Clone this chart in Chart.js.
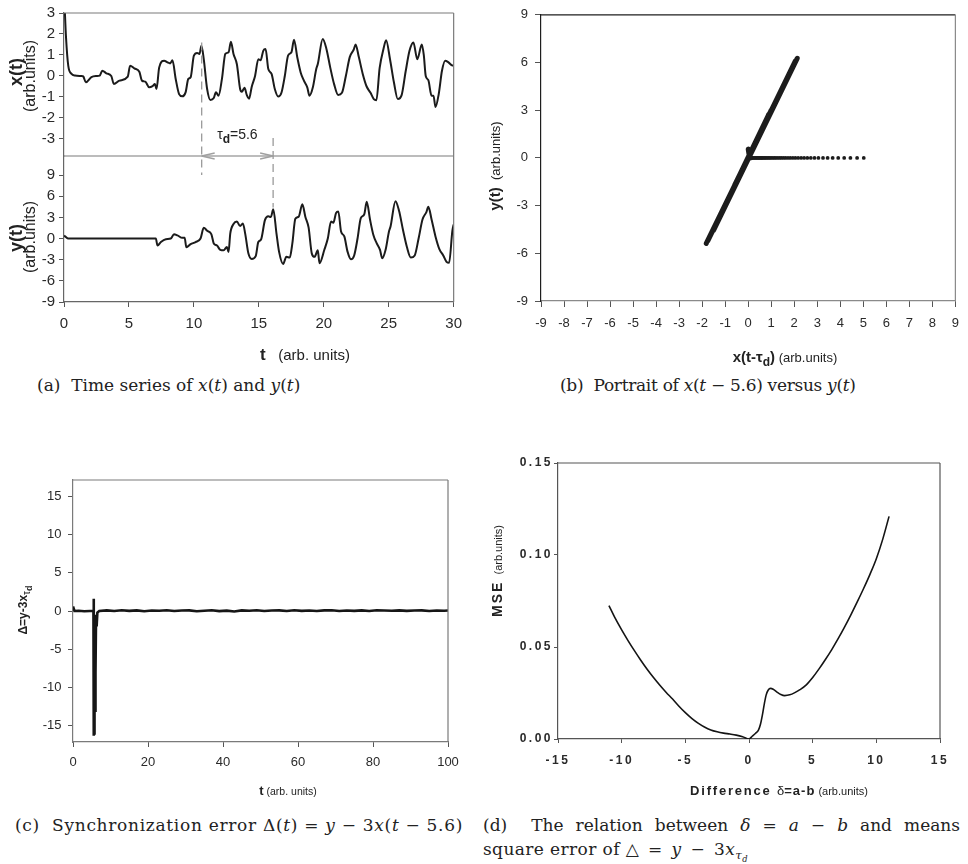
<!DOCTYPE html>
<html>
<head>
<meta charset="utf-8">
<script src="https://cdn.jsdelivr.net/npm/chart.js@4.4.1/dist/chart.umd.min.js"></script>
<style>
  body { margin: 0; background: #fff; }
  #page { position: relative; width: 968px; height: 864px; overflow: hidden; }
  canvas { position: absolute; }
  .cap { position: absolute; font-family: "DejaVu Serif", serif; font-size: 17px; color: #222; white-space: nowrap; }
  .just { text-align: justify; text-align-last: justify; white-space: normal; }
  sub { font-size: 70%; }
</style>
</head>
<body>
<div id="page">
  <canvas id="chartA" width="470" height="370" style="left:0;top:0"></canvas>
  <canvas id="chartB" width="498" height="370" style="left:470px;top:0"></canvas>
  <canvas id="chartC" width="470" height="370" style="left:0;top:440px"></canvas>
  <canvas id="chartD" width="488" height="370" style="left:480px;top:440px"></canvas>

  <div class="cap" style="left:37px;top:375px">(a)&nbsp; Time series of <i>x</i>(<i>t</i>) and <i>y</i>(<i>t</i>)</div>
  <div class="cap" style="left:560px;top:375px;letter-spacing:-0.3px">(b)&nbsp; Portrait of <i>x</i>(<i>t</i> − 5.6) versus <i>y</i>(<i>t</i>)</div>
  <div class="cap" style="left:15px;top:815px;letter-spacing:0.7px">(c)&nbsp; Synchronization error Δ(<i>t</i>) = <i>y</i> − 3<i>x</i>(<i>t</i> − 5.6)</div>
  <div class="cap just" style="left:483px;top:815px;width:477px">(d)&nbsp; The relation between <i>δ</i> = <i>a</i> − <i>b</i> and means</div>
  <div class="cap" style="left:483px;top:839px;letter-spacing:0.4px">square error of △&ensp;=&ensp;<i>y</i>&ensp;−&ensp;3<i>x</i><sub><i>τ<sub>d</sub></i></sub></div>
</div>
<script>
// (a) drive x(t) and response y(t)
const tX = [0.05, 0.15, 0.33, 0.58, 0.84, 1.35, 1.48, 1.68, 2.11, 2.49, 2.75, 2.95, 3.26, 3.64, 3.84, 4.27, 4.91, 5.09, 5.42, 5.8,
  6.0, 6.26, 6.56, 6.82, 7.0, 7.12, 7.33, 7.71, 7.97, 8.17, 8.35, 8.6, 8.86, 9.11, 9.36, 9.57, 9.75, 10.0, 10.25, 10.43,
  10.58, 10.76, 11.02, 11.27, 11.53, 11.7, 11.9, 12.16, 12.42, 12.67, 12.85, 13.05, 13.31, 13.56, 13.69, 13.9, 14.07, 14.25, 14.45, 14.71,
  14.96, 15.14, 15.34, 15.52, 15.73, 15.98, 16.23, 16.49, 16.74, 17.0, 17.25, 17.51, 17.71, 17.96, 18.22, 18.47, 18.73, 18.9, 19.16, 19.42,
  19.54, 19.92, 20.2, 20.5, 20.8, 21.1, 21.4, 21.7, 22.0, 22.3, 22.45, 22.7, 23.0, 23.3, 23.6, 23.85, 24.05, 24.3, 24.6, 24.8,
  25.1, 25.4, 25.7, 26.0, 26.3, 26.6, 26.9, 27.2, 27.55, 27.7, 27.85, 28.05, 28.3, 28.45, 28.6, 28.85, 29.1, 29.35, 29.6, 29.9, 30.0];
const xT = [3.3, 1.9, 0.48, 0.1, 0.02, 0.0, -0.02, -0.3, -0.05, 0.0, 0.02, 0.25, 0.13, 0.0, -0.38, -0.22, -0.03, 0.49, 0.36, 0.2,
  -0.22, -0.27, -0.54, -0.48, -0.38, -0.62, 0.41, 0.73, 0.65, 0.6, 0.75, -0.14, -0.86, -0.97, -0.78, -0.14, -0.06, 0.97, 1.1, 1.05,
  1.44, 0.8, -0.62, -1.14, -1.05, -0.78, -0.94, -0.14, 1.05, 1.13, 1.63, 1.05, 0.56, -0.62, -0.75, -0.56, -0.9, -1.08, -0.52, 0.0,
  0.8, 0.75, 1.2, 1.28, 0.33, 0.1, -0.62, -0.98, -0.8, 0.0, 0.97, 1.13, 1.73, 0.89, 0.17, -0.22, -0.54, -0.94, -0.54, 0.33,
  0.57, 1.76, 1.3, 0.4, -0.4, -0.9, -0.8, 0.0, 0.9, 1.25, 1.5, 0.9, 0.1, -0.5, -0.8, -1.1, -1.15, 0.37, 1.3, 1.7,
  0.8, -0.3, -1.1, -0.9, 0.2, 1.2, 1.6, 0.8, 1.5, 1.0, 0.0, -0.2, -0.94, -0.94, -1.48, -0.86, 0.25, 0.73, 0.65, 0.5, 0.5];
const tY = [0.0, 0.08, 0.33, 3.0, 7.07, 7.2, 7.46, 7.84, 8.22, 8.47, 8.73, 9.11, 9.29, 9.42, 9.75, 10.13, 10.51, 10.76, 11.02, 11.35,
  11.53, 11.78, 12.03, 12.29, 12.54, 12.67, 12.8, 13.05, 13.31, 13.56, 13.77, 13.95, 14.2, 14.45, 14.76, 14.96, 15.17, 15.47, 15.73, 15.93,
  16.11, 16.36, 16.56, 16.87, 17.12, 17.38, 17.58, 17.81, 18.07, 18.35, 18.58, 18.83, 19.08, 19.29, 19.54, 19.67, 20.05, 20.31, 20.56, 20.74,
  20.94, 21.12, 21.33, 21.58, 21.83, 22.09, 22.34, 22.6, 22.85, 23.11, 23.31, 23.56, 23.82, 24.07, 24.33, 24.5, 24.76, 25.02, 25.14, 25.52,
  25.8, 26.1, 26.4, 26.7, 27.0, 27.3, 27.6, 27.9, 28.05, 28.3, 28.6, 28.9, 29.2, 29.45, 29.65, 29.9, 30.0];
const yT = [0.4, 0.3, 0.0, 0.0, 0.0, -1.0, -0.5, -0.1, 0.0, 0.6, 0.45, 0.1, 0.1, -1.24, -0.8, -0.5, 0.0, 1.52, 1.1, 0.6,
  -0.7, -1.0, -1.6, -1.67, -1.2, -1.9, 0.7, 2.05, 2.4, 1.76, 2.14, 0.7, -2.14, -2.9, -2.5, -0.5, -0.14, 2.6, 3.14, 3.05,
  4.14, 0.7, -1.9, -3.6, -2.6, -2.7, -0.7, 2.8, 3.1, 4.86, 3.1, 1.57, -2.14, -2.6, -1.67, -3.5, -1.56, 0.0, 2.4, 2.25,
  3.6, 3.84, 1.0, 0.3, -1.86, -2.94, -2.4, 0.0, 2.9, 3.4, 5.2, 2.7, 0.5, -0.66, -1.6, -2.8, -1.6, 1.0, 1.7, 5.3,
  3.9, 1.2, -1.2, -2.7, -2.4, 0.0, 2.7, 3.75, 4.5, 2.7, 0.3, -1.5, -2.4, -3.3, -3.45, 1.1, 2.0];
const delayMarks = [10.6, 16.1];
const ticksTA = [0, 5, 10, 15, 20, 25, 30];
const ticksXA = [-3, -2, -1, 0, 1, 2, 3];
const ticksYA = [-9, -6, -3, 0, 3, 6, 9];

// (b) portrait x(t - tau_d) vs y(t)
const portX = [0.1, 0.0, 0.05, 0.9, -0.6, 1.4, -1.1, 1.6, -1.5, 2.13, -1.3, 1.7, -1.82, 1.2, -1.6, 1.9, -1.0, 1.5, -1.7, 2.0,
  -1.4, 1.8, -1.2, 1.3, -1.75, 2.05, -0.8, 1.0, -1.55, 1.65];
const portY = [0.0, 0.55, 0.1, 2.75, -1.75, 4.15, -3.35, 4.75, -4.55, 6.26, -3.85, 5.05, -5.38, 3.55, -4.75, 5.65, -2.95, 4.45, -5.05, 5.95,
  -4.15, 5.35, -3.55, 3.85, -5.2, 6.1, -2.4, 3.0, -4.6, 4.85];
const transX = [5.02, 4.73, 4.44, 4.17, 3.91, 3.67, 3.45, 3.25, 3.05, 2.88, 2.72, 2.57, 2.43, 2.30, 2.17, 2.05, 1.94, 1.83, 1.73, 1.63,
  1.54, 1.45, 1.37, 1.29, 1.21, 1.14, 1.07, 1.0, 0.94, 0.88, 0.82, 0.77, 0.72, 0.67, 0.62, 0.58, 0.54, 0.5, 0.46, 0.42,
  0.38, 0.34, 0.3, 0.26, 0.22, 0.18, 0.14, 0.1, 0.06];
const transY = [0, 0, 0, 0, 0, 0, 0, 0, 0, 0, 0, 0, 0, 0, 0, 0, 0, 0, 0, 0,
  0, 0, 0, 0, 0, 0, 0, 0, 0, 0, 0, 0, 0, 0, 0, 0, 0, 0, 0, 0,
  0, 0, 0, 0, 0, 0, 0, 0, 0];
const ticksB = [-9, -8, -7, -6, -5, -4, -3, -2, -1, 0, 1, 2, 3, 4, 5, 6, 7, 8, 9];
const ticksBY = [-9, -6, -3, 0, 3, 6, 9];

// (c) synchronization error
const tC = [0, 0.25, 0.4, 1.5, 3.0, 4.5, 5.45, 5.5, 5.53, 5.58, 5.63, 5.68, 5.74, 5.8, 5.88, 5.95, 6.05, 6.15, 6.3, 6.5, 7.0,
  9, 11, 13, 15, 17, 19, 21, 23, 25, 27, 29, 31, 33, 35, 37, 39, 41, 43, 45, 47, 49, 51, 53, 55, 57, 59,
  61, 63, 65, 67, 69, 71, 73, 75, 77, 79, 81, 83, 85, 87, 89, 91, 93, 95, 97, 99, 100];
const errC = [0.6, 0.6, 0.0, 0.03, -0.03, 0.0, 0.0, 1.6, -16.3, -0.4, -16.0, -0.8, -15.5, -1.5, -13.0, -1.0, -8.0, -0.5, -2.0, -0.2, 0.0,
  0.08, 0.0, 0.1, 0.02, 0.08, -0.03, 0.06, 0.03, 0.1, 0.0, 0.06, 0.08, -0.04, 0.03, 0.1, -0.02, 0.05, -0.06, 0.08, 0.03, 0.1, 0.0, 0.06, 0.08, 0.0, 0.1,
  0.02, 0.06, 0.0, 0.08, 0.1, 0.0, 0.06, 0.02, 0.08, 0.0, 0.1, 0.06, 0.03, 0.08, 0.02, 0.06, 0.08, 0.0, 0.06, 0.03, 0.06];
const ticksCX = [0, 20, 40, 60, 80, 100];
const ticksCY = [-15, -10, -5, 0, 5, 10, 15];

// (d) MSE vs delta = a - b
const deltaD = [-11, -10.5, -10, -9.5, -9, -8.5, -8, -7.5, -7, -6.5, -6, -5.5, -5, -4.5, -4, -3.5, -3, -2.5, -2, -1.5, -1, -0.5, 0,
  0.25, 0.5, 0.75, 0.9, 1.05, 1.2, 1.35, 1.5, 1.7, 1.9, 2.2, 2.5, 2.8, 3.2, 3.6, 4.0, 4.5, 5, 5.5, 6, 6.5, 7, 7.5, 8, 8.5, 9, 9.5, 10, 10.5, 11];
const mseD = [0.0725, 0.0655, 0.0593, 0.0535, 0.048, 0.0428, 0.0379, 0.0334, 0.0292, 0.0253, 0.0217, 0.0178, 0.0143, 0.0112, 0.0086, 0.0065, 0.0049, 0.0039, 0.0032, 0.0027, 0.0021, 0.0012, 0.0,
  0.0015, 0.003, 0.005, 0.008, 0.013, 0.019, 0.024, 0.0265, 0.0275, 0.027, 0.0255, 0.0242, 0.0236, 0.024, 0.0252, 0.0268, 0.0294, 0.0334, 0.0381, 0.0432, 0.0486, 0.0545, 0.0608, 0.0675, 0.0745, 0.0818, 0.0895, 0.098, 0.1085, 0.121];
const ticksDX = [-15, -10, -5, 0, 5, 10, 15];
const ticksDY = [0, 0.05, 0.1, 0.15];

const SANS = '"Liberation Sans", Arial, sans-serif';
const font = (size, weight) => `${weight || 'normal'} ${size}px ${SANS}`;
const pts = (xs, ys) => xs.map((v, i) => ({ x: v, y: ys[i] }));
const setTicks = arr => s => { s.ticks = arr.map(v => ({ value: v })); };

// draw a run of differently styled text pieces centred at (cx, baseline)
function drawRuns(ctx, parts, cx, cy, vertical) {
  ctx.save();
  ctx.translate(cx, cy);
  if (vertical) ctx.rotate(-Math.PI / 2);
  ctx.textAlign = 'left';
  ctx.textBaseline = 'alphabetic';
  let w = 0;
  parts.forEach(p => { ctx.font = p.font; ctx.letterSpacing = p.ls || '0px'; w += ctx.measureText(p.text).width; });
  let x = -w / 2;
  parts.forEach(p => {
    ctx.font = p.font;
    ctx.letterSpacing = p.ls || '0px';
    ctx.fillStyle = p.color || '#222';
    ctx.fillText(p.text, x, p.dy || 0);
    x += ctx.measureText(p.text).width;
  });
  ctx.restore();
}

function seg(ctx, x1, y1, x2, y2) {
  ctx.beginPath(); ctx.moveTo(x1, y1); ctx.lineTo(x2, y2); ctx.stroke();
}

function axis(opts) {
  return {
    type: 'linear',
    position: opts.position,
    min: opts.min, max: opts.max,
    stack: opts.stack, stackWeight: opts.weight,
    afterBuildTicks: setTicks(opts.ticks),
    afterFit: s => { if (opts.position === 'bottom') s.height = opts.size; else s.width = opts.size; },
    grid: { drawOnChartArea: false, drawTicks: true, tickLength: opts.tl, color: opts.tickColor || '#555', lineWidth: 1 },
    border: { display: true, color: opts.border || '#666', width: opts.bw || 1.2 },
    ticks: {
      font: opts.font, color: '#2a2a2a', padding: opts.pad, maxRotation: 0, autoSkip: false,
      callback: opts.fmt || (v => v)
    }
  };
}

const base = padding => ({
  responsive: false, animation: false, events: [],
  layout: { padding },
  plugins: { legend: { display: false }, tooltip: { enabled: false } }
});

// ---------- (a) ----------
const decoA = {
  id: 'decoA',
  afterDraw(chart) {
    const { ctx, chartArea: ca, scales } = chart;
    const sx = scales.x, top = scales.yx, bot = scales.yy;
    ctx.save();
    ctx.strokeStyle = '#7a7a7a'; ctx.lineWidth = 1.2;
    seg(ctx, ca.left, ca.top, ca.right, ca.top);
    seg(ctx, ca.right, ca.top, ca.right, ca.bottom);
    const sep = top.bottom;
    seg(ctx, ca.left, sep, ca.right, sep);
    const x1 = sx.getPixelForValue(delayMarks[0]), x2 = sx.getPixelForValue(delayMarks[1]);
    ctx.strokeStyle = '#9a9a9a'; ctx.lineWidth = 1.3; ctx.setLineDash([8, 5]);
    seg(ctx, x1, top.getPixelForValue(1.6), x1, bot.getPixelForValue(9.0));
    seg(ctx, x2, top.getPixelForValue(-2.95), x2, bot.getPixelForValue(4.4));
    ctx.setLineDash([]);
    ctx.strokeStyle = '#a0a0a0';
    seg(ctx, x1, sep, x1 + 13, sep - 3); seg(ctx, x1, sep, x1 + 13, sep + 3);
    seg(ctx, x2, sep, x2 - 13, sep - 3); seg(ctx, x2, sep, x2 - 13, sep + 3);
    ctx.restore();
    const ly = top.getPixelForValue(-2.75) + 5;
    drawRuns(ctx, [
      { text: 'τ', font: font(14) },
      { text: 'd', font: font(12, 'bold'), dy: 4 },
      { text: '=5.6', font: font(14) }
    ], (x1 + x2) / 2, ly);
    drawRuns(ctx, [{ text: 'x(t)', font: font(18, 'bold') }], 22, 72, true);
    drawRuns(ctx, [{ text: '(arb.units)', font: font(16) }], 35, 76, true);
    drawRuns(ctx, [{ text: 'y(t)', font: font(18, 'bold') }], 22, 238, true);
    drawRuns(ctx, [{ text: '(arb.units)', font: font(16) }], 35, 237, true);
    drawRuns(ctx, [
      { text: 't', font: font(17, 'bold') },
      { text: '   (arb. units)', font: font(15) }
    ], 305, 360);
  }
};

new Chart(document.getElementById('chartA'), {
  type: 'line',
  data: {
    datasets: [
      { data: pts(tX, xT), yAxisID: 'yx', borderColor: '#1b1b1b', borderWidth: 2, pointRadius: 0, cubicInterpolationMode: 'monotone' },
      { data: pts(tY, yT), yAxisID: 'yy', borderColor: '#1b1b1b', borderWidth: 2, pointRadius: 0, cubicInterpolationMode: 'monotone' }
    ]
  },
  options: Object.assign(base({ top: 13, right: 13, left: 0, bottom: 0 }), {
    scales: {
      x: axis({ position: 'bottom', min: 0, max: 30, ticks: ticksTA, size: 68, tl: 5, pad: 8, font: { family: SANS, size: 15 } }),
      // first axis of the stack goes to the bottom
      yy: axis({ position: 'left', min: -9, max: 11.7, stack: 'a', weight: 146, ticks: ticksYA, size: 64, tl: 5, pad: 4, font: { family: SANS, size: 15 } }),
      yx: axis({ position: 'left', min: -3.81, max: 3, stack: 'a', weight: 143, ticks: ticksXA, size: 64, tl: 5, pad: 4, font: { family: SANS, size: 15 } })
    }
  }),
  plugins: [decoA]
});

// ---------- (b) ----------
const decoB = {
  id: 'decoB',
  afterDraw(chart) {
    const { ctx, chartArea: ca } = chart;
    ctx.save();
    ctx.strokeStyle = '#1e1e1e'; ctx.lineWidth = 1.3;
    seg(ctx, ca.left, ca.top, ca.right, ca.top);
    ctx.strokeStyle = '#8a8a8a'; ctx.lineWidth = 1.2;
    seg(ctx, ca.right, ca.top, ca.right, ca.bottom);
    ctx.restore();
    drawRuns(ctx, [
      { text: 'y(t)', font: font(15, 'bold') },
      { text: '  (arb.units)', font: font(13) }
    ], 30, 166, true);
    drawRuns(ctx, [
      { text: 'x(t-τ', font: font(15, 'bold') },
      { text: 'd', font: font(12, 'bold'), dy: 4 },
      { text: ')', font: font(15, 'bold') },
      { text: ' (arb.units)', font: font(13) }
    ], 315, 362);
  }
};

new Chart(document.getElementById('chartB'), {
  type: 'scatter',
  data: {
    datasets: [
      { data: pts(portX, portY), showLine: true, borderColor: '#1c1c1c', borderWidth: 5, pointRadius: 0,
        borderJoinStyle: 'round', borderCapStyle: 'round' },
      { data: pts(transX, transY), showLine: false, pointRadius: 1.9, backgroundColor: '#1c1c1c', borderWidth: 0 }
    ]
  },
  options: Object.assign(base({ top: 8, right: 10, left: 0, bottom: 0 }), {
    scales: {
      x: axis({ position: 'bottom', min: -9, max: 9, ticks: ticksB, size: 69, tl: 6, pad: 9, border: '#8a8a8a', font: { family: SANS, size: 13 } }),
      y: axis({ position: 'left', min: -9, max: 9, ticks: ticksBY, size: 71, tl: 6, pad: 7, border: '#1e1e1e', font: { family: SANS, size: 13 } })
    }
  }),
  plugins: [decoB]
});

// ---------- (c) ----------
const decoC = {
  id: 'decoC',
  afterDraw(chart) {
    const { ctx, chartArea: ca } = chart;
    ctx.save();
    ctx.strokeStyle = '#7a7a7a'; ctx.lineWidth = 1.2;
    seg(ctx, ca.left, ca.top, ca.right, ca.top);
    seg(ctx, ca.right, ca.top, ca.right, ca.bottom);
    ctx.restore();
    drawRuns(ctx, [
      { text: 'Δ=y-3x', font: font(12, 'bold') },
      { text: 'τ', font: font(10), dy: 3 },
      { text: 'd', font: font(9, 'bold'), dy: 5 }
    ], 27, 170, true);
    drawRuns(ctx, [
      { text: 't', font: font(13, 'bold') },
      { text: ' (arb. units)', font: font(10.5) }
    ], 288, 355);
  }
};

new Chart(document.getElementById('chartC'), {
  type: 'line',
  data: {
    datasets: [
      { data: pts(tC, errC), borderColor: '#161616', borderWidth: 2.6, pointRadius: 0, tension: 0 }
    ]
  },
  options: Object.assign(base({ top: 40, right: 22, left: 0, bottom: 0 }), {
    scales: {
      x: axis({ position: 'bottom', min: 0, max: 100, ticks: ticksCX, size: 68, tl: 5, pad: 7.5, border: '#7a7a7a', font: { family: SANS, size: 13 } }),
      y: axis({ position: 'left', min: -17.1, max: 17.1, ticks: ticksCY, size: 73, tl: 5, pad: 6.5, border: '#7a7a7a', font: { family: SANS, size: 13 } })
    }
  }),
  plugins: [decoC]
});

// ---------- (d) ----------
const decoD = {
  id: 'decoD',
  beforeDraw(chart) { chart.ctx.letterSpacing = '2.5px'; },
  afterDraw(chart) {
    const { ctx, chartArea: ca } = chart;
    ctx.letterSpacing = '0px';
    ctx.save();
    ctx.strokeStyle = '#555'; ctx.lineWidth = 1.2;
    seg(ctx, ca.left, ca.top, ca.right, ca.top);
    seg(ctx, ca.right, ca.top, ca.right, ca.bottom);
    ctx.restore();
    drawRuns(ctx, [
      { text: 'MSE', font: font(14, 'bold'), ls: '2px' },
      { text: '  (arb.units)', font: font(11) }
    ], 22, 131, true);
    drawRuns(ctx, [
      { text: 'Difference ', font: font(13, 'bold'), ls: '1.8px' },
      { text: 'δ', font: font(13) },
      { text: '=a-b', font: font(13, 'bold'), ls: '1px' },
      { text: ' (arb.units)', font: font(11) }
    ], 299, 355);
  }
};

new Chart(document.getElementById('chartD'), {
  type: 'line',
  data: {
    datasets: [
      { data: pts(deltaD, mseD), borderColor: '#141414', borderWidth: 1.6, pointRadius: 0, cubicInterpolationMode: 'monotone' }
    ]
  },
  options: Object.assign(base({ top: 23, right: 28, left: 0, bottom: 0 }), {
    scales: {
      x: axis({ position: 'bottom', min: -15, max: 15, ticks: ticksDX, size: 71, tl: 4, pad: 10, border: '#555', font: { family: SANS, size: 12, weight: 'bold' } }),
      y: axis({ position: 'left', min: 0, max: 0.15, ticks: ticksDY, size: 78, tl: 4, pad: 1, border: '#555', font: { family: SANS, size: 12, weight: 'bold' },
        fmt: v => v.toFixed(2) })
    }
  }),
  plugins: [decoD]
});
</script>
</body>
</html>
